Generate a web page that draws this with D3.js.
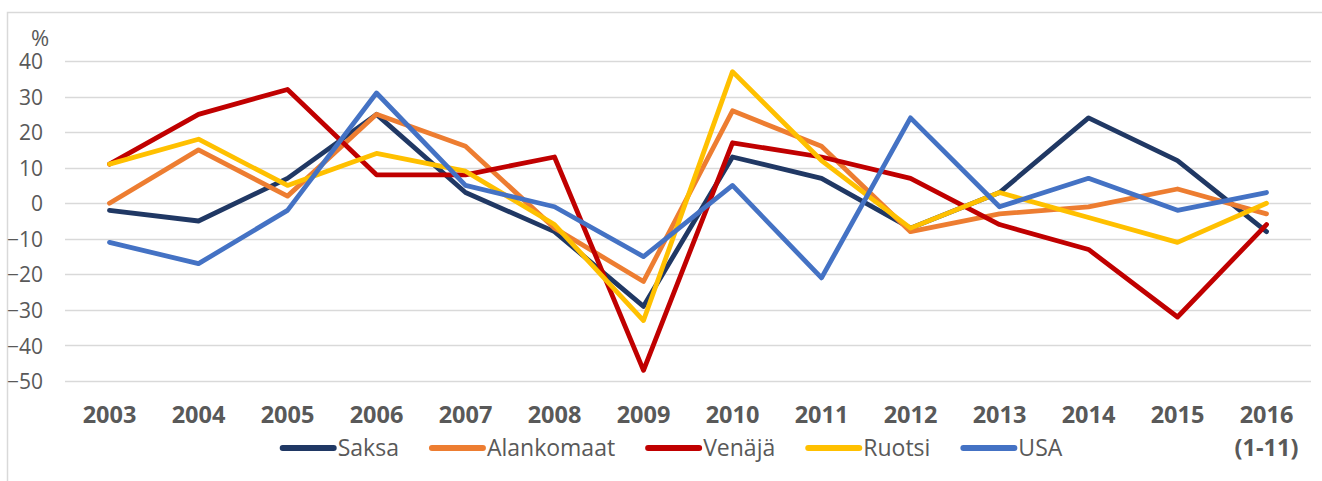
<!DOCTYPE html>
<html>
<head>
<meta charset="utf-8">
<script src="https://cdn.jsdelivr.net/npm/d3@7"></script>
<style>
  body { margin: 0; background: #fff; }
  svg { display: block; font-family: "Open Sans", "DejaVu Sans", sans-serif; }
</style>
</head>
<body>
<svg width="1322" height="481"></svg>
<script>
var years = ["2003", "2004", "2005", "2006", "2007", "2008", "2009", "2010", "2011", "2012", "2013", "2014", "2015", "2016"];
var yearLabels = [["2003"], ["2004"], ["2005"], ["2006"], ["2007"], ["2008"], ["2009"], ["2010"], ["2011"], ["2012"], ["2013"], ["2014"], ["2015"], ["2016", "(1-11)"]];
var yTicks = [40, 30, 20, 10, 0, -10, -20, -30, -40, -50];

var saksa = [-2, -5, 7, 25, 3, -8, -29, 13, 7, -7, 3, 24, 12, -8];
var alankomaat = [0, 15, 2, 25, 16, -7, -22, 26, 16, -8, -3, -1, 4, -3];
var venaja = [11, 25, 32, 8, 8, 13, -47, 17, 13, 7, -6, -13, -32, -6];
var ruotsi = [11, 18, 5, 14, 9, -6, -33, 37, 12, -7, 3, -4, -11, 0];
var usa = [-11, -17, -2, 31, 5, -1, -15, 5, -21, 24, -1, 7, -2, 3];

var seriesNames = ["Saksa", "Alankomaat", "Venäjä", "Ruotsi", "USA"];
var seriesColors = ["#203864", "#ED7D31", "#C00000", "#FFC000", "#4472C4"];

var series = [saksa, alankomaat, venaja, ruotsi, usa].map(function (vals, i) {
  return { name: seriesNames[i], color: seriesColors[i], values: vals };
});

var svg = d3.select("svg"),
  width = +svg.attr("width"),
  height = +svg.attr("height");

// plot area (note: "top" is taken by window.top, so use plot* names)
var plotLeft = 65, plotRight = 1311, plotTop = 61, plotBottom = 381;

// outer chart border (only left and top visible in the crop)
svg.append("rect")
  .attr("x", 7.5).attr("y", 12.5)
  .attr("width", 1400).attr("height", 600)
  .attr("fill", "none")
  .attr("stroke", "#d9d9d9")
  .attr("stroke-width", 1.5);

var x = d3.scalePoint()
  .domain(years)
  .range([plotLeft, plotRight])
  .padding(0.5);

var y = d3.scaleLinear()
  .domain([-50, 40])
  .range([plotBottom, plotTop]);

// gridlines
svg.append("g")
  .attr("class", "grid")
  .selectAll("line")
  .data(yTicks)
  .enter().append("line")
  .attr("x1", plotLeft).attr("x2", plotRight)
  .attr("y1", function (d) { return Math.round(y(d)) + 0.5; })
  .attr("y2", function (d) { return Math.round(y(d)) + 0.5; })
  .attr("stroke", "#d9d9d9")
  .attr("stroke-width", 1.5);

// y axis labels
var yAxis = svg.append("g")
  .attr("transform", "translate(43,0)")
  .call(d3.axisLeft(y).tickValues(yTicks).tickSize(0).tickPadding(0));
yAxis.select(".domain").remove();
yAxis.selectAll("text")
  .attr("font-family", "Open Sans")
  .attr("font-size", 21)
  .attr("fill", "#595959")
  .attr("dy", "0.36em");

svg.append("text")
  .attr("x", 31).attr("y", 46)
  .attr("font-size", 22)
  .attr("fill", "#595959")
  .text("%");

// x axis labels
var xl = svg.append("g")
  .selectAll("text")
  .data(yearLabels)
  .enter().append("text")
  .attr("x", function (d, i) { return x(years[i]); })
  .attr("y", 423)
  .attr("text-anchor", "middle")
  .attr("font-size", 23.5)
  .attr("font-weight", "bold")
  .attr("fill", "#595959");
xl.selectAll("tspan")
  .data(function (d) { return d; })
  .enter().append("tspan")
  .attr("x", function () { return d3.select(this.parentNode).attr("x"); })
  .attr("dy", function (d, i) { return i === 0 ? 0 : 33; })
  .text(function (d) { return d; });

// lines
var line = d3.line()
  .x(function (d, i) { return x(years[i]); })
  .y(function (d) { return y(d); });

svg.append("g")
  .selectAll("path")
  .data(series)
  .enter().append("path")
  .attr("d", function (d) { return line(d.values); })
  .attr("fill", "none")
  .attr("stroke", function (d) { return d.color; })
  .attr("stroke-width", 4.8)
  .attr("stroke-linejoin", "round")
  .attr("stroke-linecap", "round");

// legend
var legend = svg.append("g");
var lx = 0;
series.forEach(function (s) {
  var item = legend.append("g").attr("transform", "translate(" + lx + ",0)");
  item.append("line")
    .attr("x1", 3).attr("x2", 54)
    .attr("y1", 448).attr("y2", 448)
    .attr("stroke", s.color)
    .attr("stroke-width", 6)
    .attr("stroke-linecap", "round");
  var t = item.append("text")
    .attr("x", 58).attr("y", 456)
    .attr("font-size", 23)
    .attr("fill", "#595959")
    .text(s.name);
  lx += 58 + t.node().getComputedTextLength() + 30;
});
var legendW = lx - 30;
legend.attr("transform", "translate(" + (671 - legendW / 2) + ",0)");
</script>
</body>
</html>
